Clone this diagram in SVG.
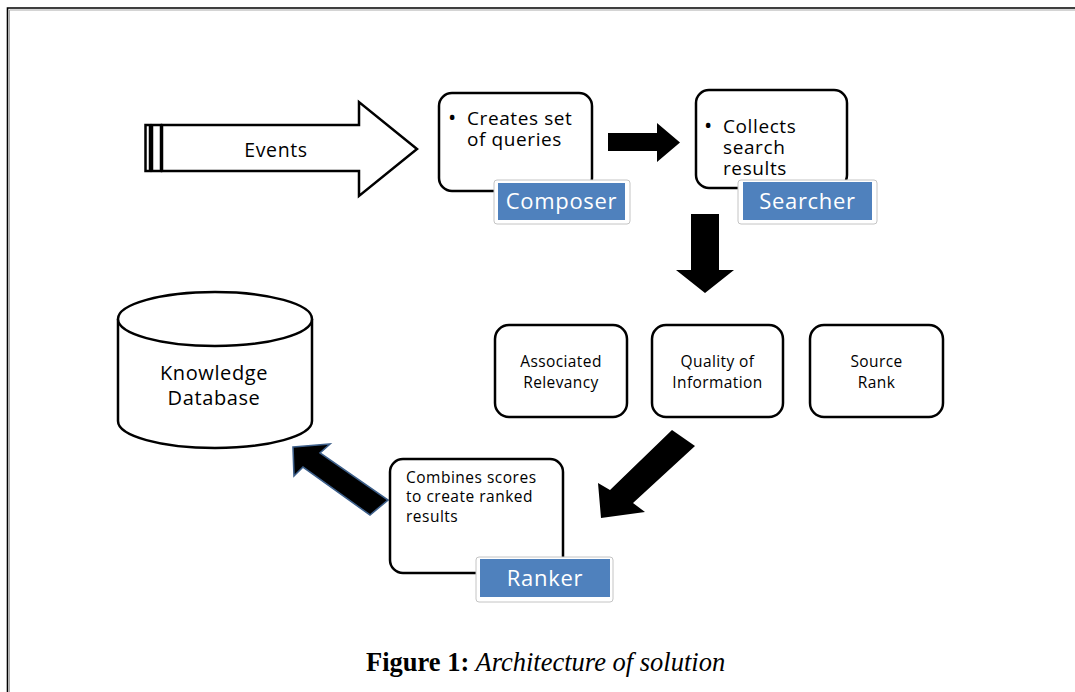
<svg xmlns="http://www.w3.org/2000/svg" width="1075" height="692" viewBox="0 0 1075 692">
<style>
.box{fill:#fff;stroke:#000;stroke-width:2.5}
.t{font-family:"Open Sans","Liberation Sans",sans-serif;fill:#000}
.bt{font-size:19px;letter-spacing:0.6px}
.st{font-size:15.5px;letter-spacing:0.4px;text-anchor:middle}
.lblo{fill:#fff;stroke:#c4c4c4;stroke-width:1}
.lbl{fill:#4f81bd}
.lt{font-family:"Open Sans","Liberation Sans",sans-serif;fill:#fff;font-size:22px;letter-spacing:0.7px;text-anchor:middle}
.blk{fill:#000}
</style>
<rect width="1075" height="692" fill="#fff"/>
<g id="frame" fill="none">
<polyline points="7.5,692 7.5,8 1075,8" stroke="#000" stroke-width="1.6"/>
<polyline points="9.5,692 9.5,10 1075,10" stroke="#aaa" stroke-width="1"/>
</g>
<g id="connectors">
<g id="events-arrow">
<rect x="145.5" y="125" width="4.5" height="46" class="box" stroke-width="2"/>
<rect x="152" y="125" width="9" height="46" class="box" stroke-width="2"/>
<polygon points="162,125 359,125 359,102 417,149 359,196 359,171 162,171" class="box"/>
<text class="t" x="276" y="157" font-size="19.5" letter-spacing="0.6" text-anchor="middle">Events</text>
</g>
<polygon class="blk" points="608,133 657,133 657,123 680,142.5 657,162 657,151 608,151"/>
<polygon class="blk" points="691,214 719,214 719,270 734,270 705,293 676,270 691,270"/>
<polygon class="blk" points="672,430 695,446 633,503 645,512 601,518 598,483 610,490"/>
<polygon points="293,447 330,444 320,453 388,500 370,515 303,467 294,476" fill="#000" stroke="#3d5f8a" stroke-width="1.6" stroke-linejoin="miter"/>
</g>
<g id="composer">
<rect x="439" y="93" width="153" height="98" rx="13" class="box"/>
<text class="t bt"><tspan x="448" y="125" font-size="22">•</tspan><tspan x="467" y="125">Creates set</tspan><tspan x="467" y="146">of queries</tspan></text>
<rect x="494" y="180" width="136" height="44" rx="3" class="lblo"/>
<rect x="498" y="183" width="127" height="37" class="lbl"/>
<text class="lt" x="561.5" y="209">Composer</text>
</g>
<g id="searcher">
<rect x="696" y="90" width="151" height="98" rx="13" class="box"/>
<text class="t bt"><tspan x="704" y="133" font-size="22">•</tspan><tspan x="723" y="133">Collects</tspan><tspan x="723" y="154">search</tspan><tspan x="723" y="175">results</tspan></text>
<rect x="738" y="180" width="139" height="44" rx="3" class="lblo"/>
<rect x="743" y="182" width="129" height="38" class="lbl"/>
<text class="lt" x="807.5" y="209">Searcher</text>
</g>
<g id="knowledge-db">
<path d="M118,319 L118,421 A97,27 0 0 0 312,421 L312,319" class="box"/>
<ellipse cx="215" cy="319" rx="97" ry="27" class="box"/>
<text class="t" font-size="20" letter-spacing="0.6" text-anchor="middle"><tspan x="214" y="380">Knowledge</tspan><tspan x="214" y="405">Database</tspan></text>
</g>
<g id="associated-relevancy">
<rect x="495" y="325" width="132" height="92" rx="14" class="box"/>
<text class="t st"><tspan x="561" y="367">Associated</tspan><tspan x="561" y="388">Relevancy</tspan></text>
</g>
<g id="quality-of-information">
<rect x="652" y="325" width="131" height="92" rx="14" class="box"/>
<text class="t st"><tspan x="717.5" y="367">Quality of</tspan><tspan x="717.5" y="388">Information</tspan></text>
</g>
<g id="source-rank">
<rect x="810" y="325" width="133" height="92" rx="14" class="box"/>
<text class="t st"><tspan x="876.5" y="367">Source</tspan><tspan x="876.5" y="388">Rank</tspan></text>
</g>
<g id="ranker">
<rect x="390" y="459" width="173" height="114" rx="13" class="box"/>
<text class="t" font-size="15.5" letter-spacing="0.5"><tspan x="406" y="483">Combines scores</tspan><tspan x="406" y="502">to create ranked</tspan><tspan x="406" y="522">results</tspan></text>
<rect x="476" y="557" width="137" height="45" rx="3" class="lblo"/>
<rect x="480" y="559" width="130" height="38" class="lbl"/>
<text class="lt" x="545" y="586">Ranker</text>
</g>
<text id="caption" x="366" y="671" font-family="'Liberation Serif',serif" font-size="26.5" fill="#000"><tspan font-weight="bold">Figure 1:</tspan><tspan font-style="italic"> Architecture of solution</tspan></text>
</svg>
